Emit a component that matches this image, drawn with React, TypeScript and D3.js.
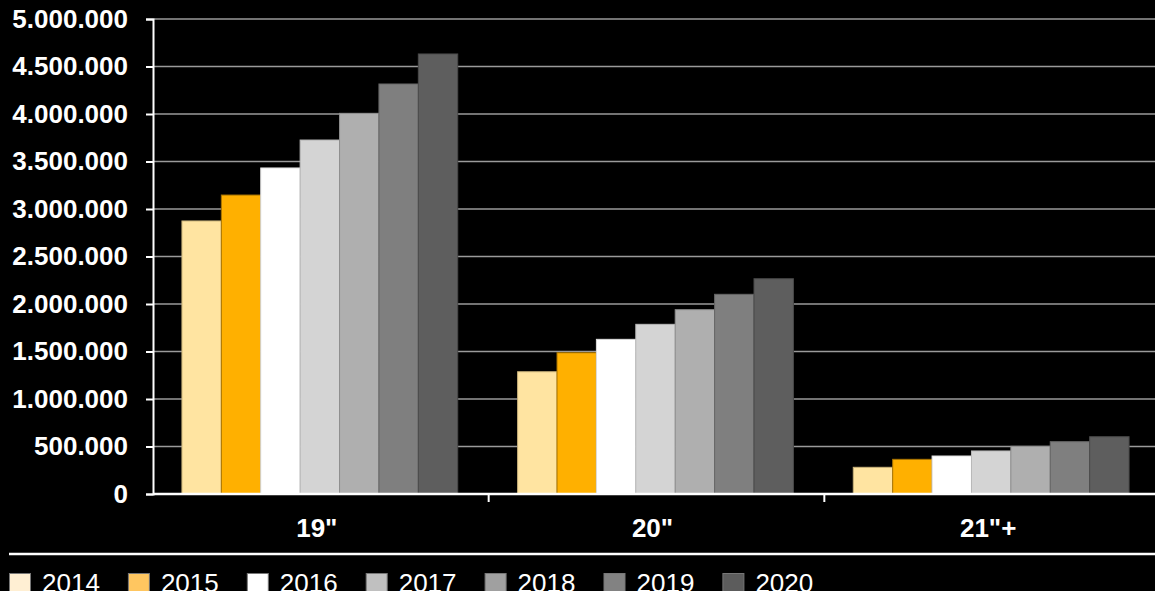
import { useEffect, useRef } from 'react';
import * as d3 from 'd3';

const categories = ['19"', '20"', '21"+'];
const years = ['2014', '2015', '2016', '2017', '2018', '2019', '2020'];
// values per year, one entry per category
const values2014 = [2874000, 1287000, 281000];
const values2015 = [3147000, 1487000, 365000];
const values2016 = [3432000, 1628000, 400000];
const values2017 = [3726000, 1786000, 453000];
const values2018 = [4007000, 1940000, 502000];
const values2019 = [4316000, 2102000, 551000];
const values2020 = [4632000, 2266000, 603000];
const seriesValues = [values2014, values2015, values2016, values2017, values2018, values2019, values2020];
const yTicks = [0, 500000, 1000000, 1500000, 2000000, 2500000, 3000000, 3500000, 4000000, 4500000, 5000000];

const barColors = ['#FFE4A1', '#FFB000', '#FFFFFF', '#D4D4D4', '#AFAFAF', '#7F7F7F', '#5E5E5E'];
const barStrokes = ['#C9B27A', '#A87400', '#DDDDDD', '#B8B8B8', '#8E8E8E', '#666666', '#4A4A4A'];
const legendColors = ['#FFEFD3', '#FFC660', '#FFFFFF', '#C0C0C0', '#A0A0A0', '#828282', '#5C5C5C'];

const W = 1155;
const H = 591;
const FONT = '"Liberation Sans", Arial, sans-serif';

export default function App() {
  const svgRef = useRef<SVGSVGElement>(null);

  useEffect(() => {
    if (!svgRef.current) return;
    const svg = d3.select(svgRef.current);
    svg.selectAll('*').remove();

    const left = 153;
    const top = 19;
    const bottom = 494;

    const y = d3.scaleLinear().domain([0, 5000000]).range([bottom, top]);
    // bands run a little past the right edge, as in the original
    const x0 = d3.scaleBand().domain(categories).range([152, 1159]).paddingInner(0).paddingOuter(0);
    const x1 = d3.scaleBand().domain(years).range([0, x0.bandwidth()]).paddingInner(0).paddingOuter(0.76);

    const locale = d3.formatLocale({ decimal: ',', thousands: '.', grouping: [3], currency: ['', ''] });
    const fmt = locale.format(',d');

    svg.append('rect').attr('width', W).attr('height', H).attr('fill', '#000');

    // gridlines
    svg.append('g')
      .selectAll('line')
      .data(yTicks.filter(d => d > 0))
      .join('line')
      .attr('x1', left)
      .attr('x2', W)
      .attr('y1', d => y(d))
      .attr('y2', d => y(d))
      .attr('stroke', '#9A9A9A')
      .attr('stroke-width', 1.5);

    // bars
    years.forEach((yr, si) => {
      svg.append('g')
        .selectAll('rect')
        .data(seriesValues[si])
        .join('rect')
        .attr('x', (_, ci) => (x0(categories[ci]) || 0) + (x1(yr) || 0))
        .attr('y', d => y(d))
        .attr('width', x1.bandwidth())
        .attr('height', d => bottom - y(d))
        .attr('fill', barColors[si])
        .attr('stroke', barStrokes[si])
        .attr('stroke-width', 1);
    });

    // y axis
    const yAxis = d3.axisLeft(y)
      .tickValues(yTicks)
      .tickSize(7)
      .tickPadding(18)
      .tickFormat(d => fmt(d as number));

    svg.append('g')
      .attr('transform', `translate(${left},0)`)
      .call(yAxis)
      .call(g => g.selectAll('.domain').attr('stroke', '#fff').attr('stroke-width', 2))
      .call(g => g.selectAll('line').attr('stroke', '#fff').attr('stroke-width', 2))
      .call(g => g.selectAll('text')
        .attr('fill', '#fff')
        .attr('font-family', FONT)
        .attr('font-weight', 'bold')
        .attr('font-size', '26px'));

    // x axis
    const xAxisG = svg.append('g');
    xAxisG.append('line')
      .attr('x1', left)
      .attr('x2', W)
      .attr('y1', bottom)
      .attr('y2', bottom)
      .attr('stroke', '#fff')
      .attr('stroke-width', 2.5);
    xAxisG.selectAll('line.tick')
      .data(categories.slice(1))
      .join('line')
      .attr('class', 'tick')
      .attr('x1', d => (x0(d) || 0) + 1)
      .attr('x2', d => (x0(d) || 0) + 1)
      .attr('y1', bottom)
      .attr('y2', bottom + 8)
      .attr('stroke', '#fff')
      .attr('stroke-width', 2);
    xAxisG.selectAll('text')
      .data(categories)
      .join('text')
      .attr('x', d => (x0(d) || 0) + x0.bandwidth() / 2 - 3)
      .attr('y', 537)
      .attr('text-anchor', 'middle')
      .attr('fill', '#fff')
      .attr('font-family', FONT)
      .attr('font-weight', 'bold')
      .attr('font-size', '26px')
      .text(d => d);

    // separator
    svg.append('line')
      .attr('x1', 9)
      .attr('x2', W)
      .attr('y1', 554)
      .attr('y2', 554)
      .attr('stroke', '#fff')
      .attr('stroke-width', 2.5);

    // legend (bottom row is clipped by the frame, as in the original)
    const legend = svg.append('g');
    const items = legend.selectAll('g')
      .data(years)
      .join('g')
      .attr('transform', (_, i) => `translate(${9 + i * 118.9},0)`);
    items.append('rect')
      .attr('x', 0.5)
      .attr('y', 573.5)
      .attr('width', 21)
      .attr('height', 19)
      .attr('fill', (_, i) => legendColors[i])
      .attr('stroke', '#777')
      .attr('stroke-width', 1);
    items.append('text')
      .attr('x', 33)
      .attr('y', 592)
      .attr('fill', '#fff')
      .attr('font-family', FONT)
      .attr('font-size', '26px')
      .text(d => d);
  }, []);

  return (
    <div style={{ position: 'absolute', left: 0, top: 0, width: W, height: H, background: '#000' }}>
      <svg ref={svgRef} width={W} height={H} style={{ display: 'block' }} />
    </div>
  );
}
